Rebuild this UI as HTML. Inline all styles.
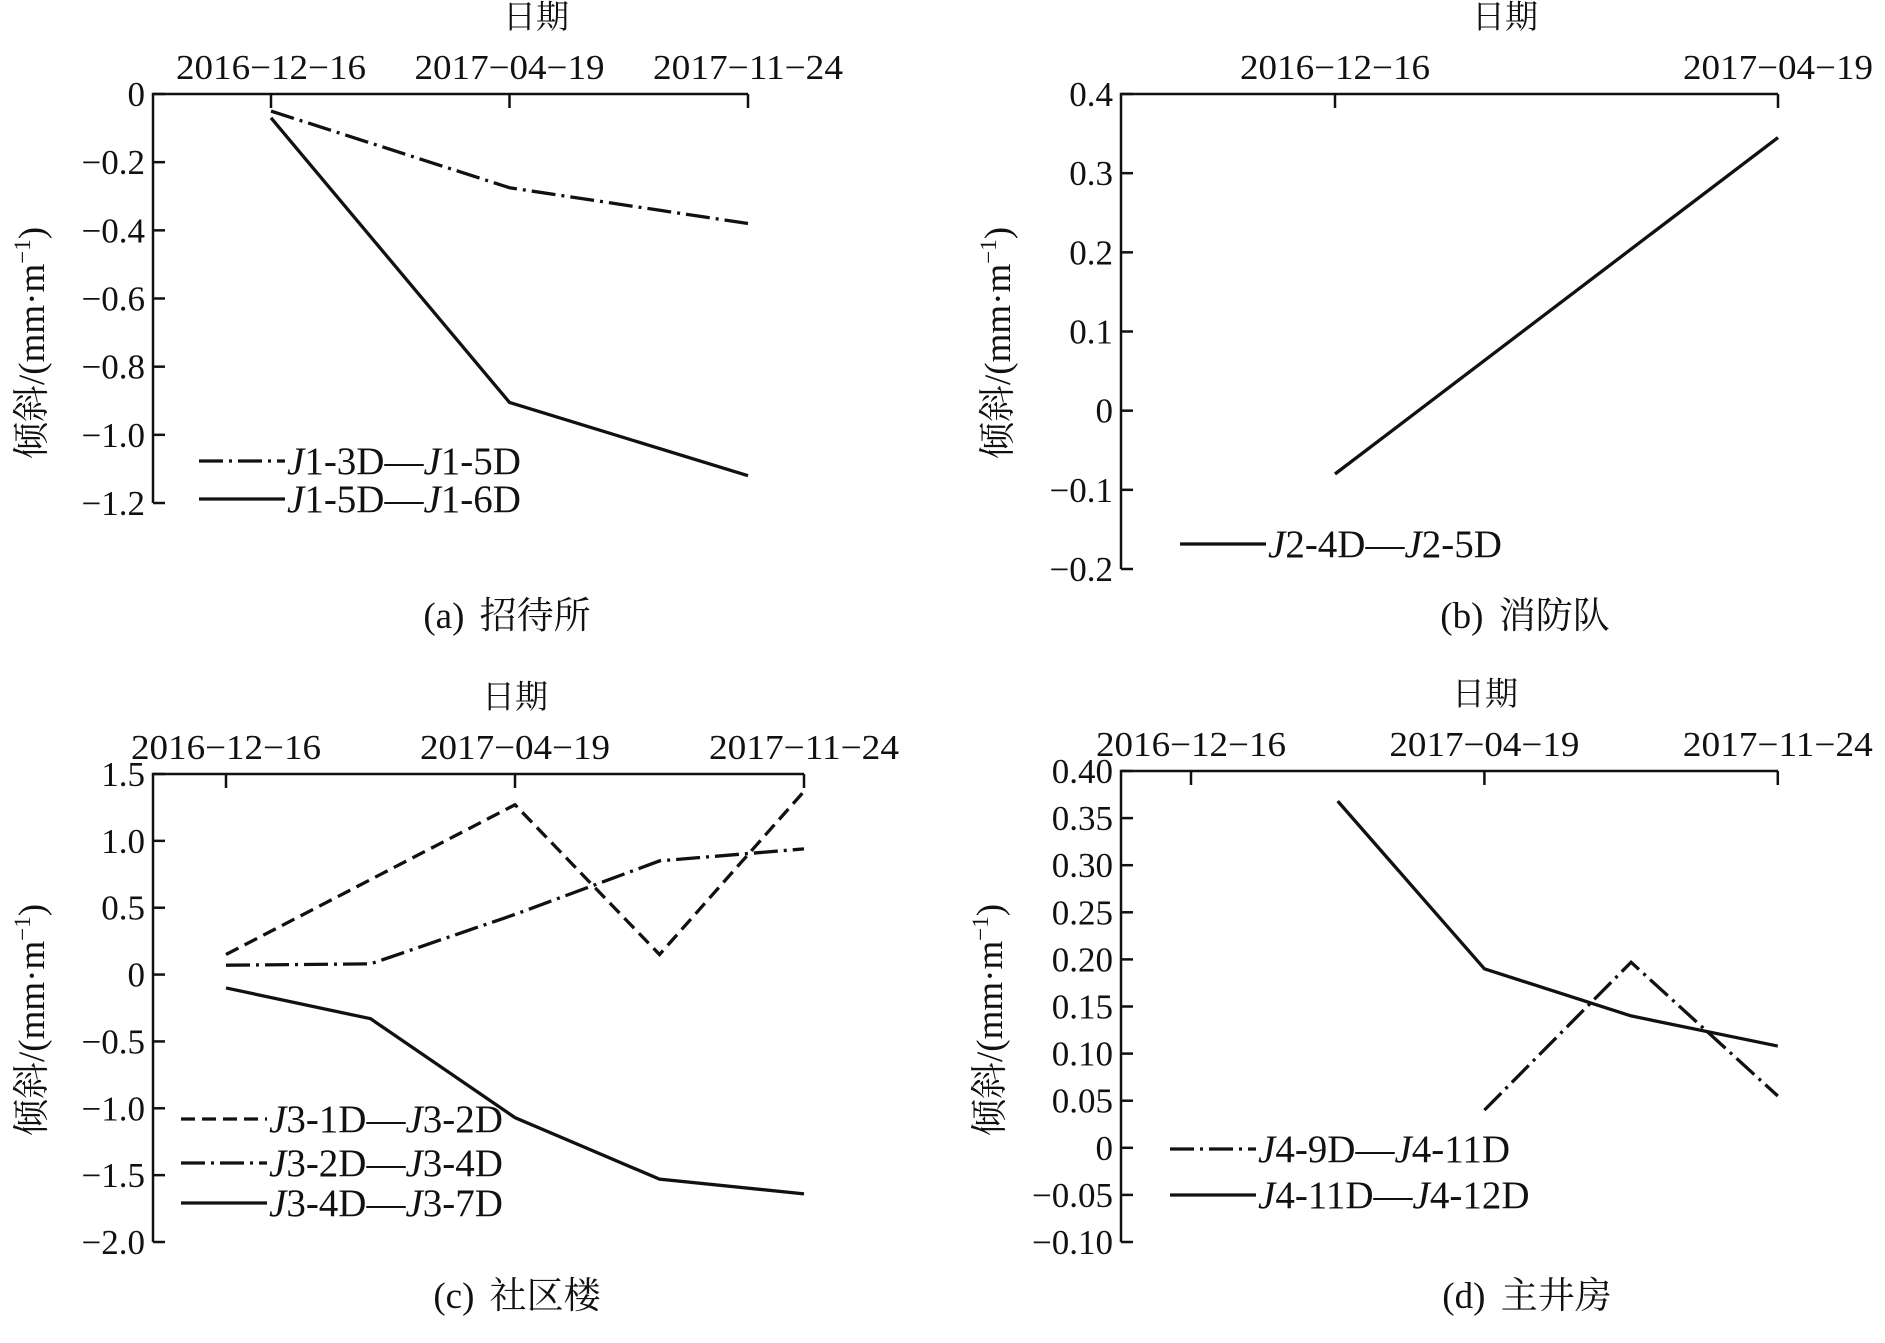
<!DOCTYPE html>
<html><head><meta charset="utf-8">
<style>
html,body{margin:0;padding:0;background:#fff;}
svg text{font-family:"Liberation Serif","Noto Serif CJK SC","Noto Sans CJK SC",serif;fill:#111;}
</style></head>
<body>
<svg id="fig" width="1885" height="1338" viewBox="0 0 1885 1338" xmlns="http://www.w3.org/2000/svg"></svg>
<script>
// ---- Panel (a) data ----
const aDateLabels = ["2016−12−16","2017−04−19","2017−11−24"];
const aYTicks = [0,-0.2,-0.4,-0.6,-0.8,-1.0,-1.2];
const aYTickLabels = ["0","−0.2","−0.4","−0.6","−0.8","−1.0","−1.2"];
const aSeries1 = [-0.05,-0.275,-0.38];
const aSeries2 = [-0.07,-0.905,-1.12];
const aNames = ["J1-3D—J1-5D","J1-5D—J1-6D"];
// ---- Panel (b) data ----
const bDateLabels = ["2016−12−16","2017−04−19"];
const bYTicks = [0.4,0.3,0.2,0.1,0,-0.1,-0.2];
const bYTickLabels = ["0.4","0.3","0.2","0.1","0","−0.1","−0.2"];
const bSeries1 = [-0.08,0.345];
const bNames = ["J2-4D—J2-5D"];
// ---- Panel (c) data ----
const cDateLabels = ["2016−12−16","2017−04−19","2017−11−24"];
const cYTicks = [1.5,1.0,0.5,0,-0.5,-1.0,-1.5,-2.0];
const cYTickLabels = ["1.5","1.0","0.5","0","−0.5","−1.0","−1.5","−2.0"];
const cSeries1 = [0.15,0.71,1.27,0.15,1.37];
const cSeries2 = [0.07,0.08,0.45,0.85,0.94];
const cSeries3 = [-0.1,-0.33,-1.07,-1.53,-1.64];
const cNames = ["J3-1D—J3-2D","J3-2D—J3-4D","J3-4D—J3-7D"];
// ---- Panel (d) data ----
const dDateLabels = ["2016−12−16","2017−04−19","2017−11−24"];
const dYTicks = [0.40,0.35,0.30,0.25,0.20,0.15,0.10,0.05,0,-0.05,-0.10];
const dYTickLabels = ["0.40","0.35","0.30","0.25","0.20","0.15","0.10","0.05","0","−0.05","−0.10"];
const dSeries1 = [null,0.04,0.197,0.055];
const dSeries2 = [0.368,0.19,0.14,0.108];
const dNames = ["J4-9D—J4-11D","J4-11D—J4-12D"];

const NS="http://www.w3.org/2000/svg";
const svg=document.getElementById('fig');
function el(tag,attrs,parent){const e=document.createElementNS(NS,tag);for(const k in attrs)e.setAttribute(k,attrs[k]);(parent||svg).appendChild(e);return e;}

const DASH={solid:"",dashed:"14 7",dashdot:"24 6 3 6"};

function panel(cfg){
  const g=el('g',{});
  
  
  const yScale=v=>cfg.yTop+(cfg.yMax-v)/(cfg.yMax-cfg.yMin)*(cfg.yBot-cfg.yTop);
  const xScale=i=>cfg.xs0+i*cfg.xStep;
  const ax=el('path',{d:`M${cfg.left},${cfg.yBot}V${cfg.yTop}H${cfg.axRight}`,stroke:'#111','stroke-width':2.5,fill:'none'},g);
  
  
  cfg.yTicks.forEach((v,i)=>{
    const y=yScale(v);
    el('line',{x1:cfg.left,x2:cfg.left+12,y1:y,y2:y,stroke:'#111','stroke-width':2.5},g);
    const t=el('text',{x:cfg.left-8,y:y+12,'text-anchor':'end','font-size':35},g);
    t.textContent=cfg.yLabels[i];
    
    
  });
  cfg.xTickIdx.forEach((idx,i)=>{
    const x=xScale(idx);
    el('line',{x1:x,x2:x,y1:cfg.yTop,y2:cfg.yTop+14,stroke:'#111','stroke-width':2.5},g);
    const t=el('text',{x:x,y:cfg.yTop-15,'text-anchor':'middle','font-size':35,textLength:190,lengthAdjust:'spacingAndGlyphs'},g);
    t.textContent=cfg.xLabels[i];
    
    
  });
  const xt=el('text',{x:cfg.xTitleX,y:cfg.yTop-66,'text-anchor':'middle','font-size':33},g);
  xt.textContent='日期';
  
  
  const yt=el('text',{x:0,y:0,'text-anchor':'middle','font-size':37,transform:`translate(${cfg.yTitleX},${cfg.yTitleY}) rotate(-90)`},g);
  yt.innerHTML='倾斜/(mm·m<tspan dy="-14" font-size="23">−1</tspan><tspan dy="14">)</tspan>';
  
  
  cfg.series.forEach((s,si)=>{
    let d='';let started=false;
    s.vals.forEach((v,i)=>{ if(v===null)return; d+=(started?'L':'M')+xScale(i+s.off)+','+yScale(v); started=true;});
    const p=el('path',{d:d,fill:'none',stroke:'#111','stroke-width':3.3,'stroke-dasharray':DASH[s.style]},g);
    
    
    const ly=cfg.legY[si];
    const ll=el('line',{x1:cfg.legX,x2:cfg.legX+86,y1:ly,y2:ly,stroke:'#111','stroke-width':3.3,'stroke-dasharray':DASH[s.style]},g);
    
    
    const parts=cfg.names[si].split('—');
    const a=parts[0].split('-'),b=parts[1].split('-');
    const t=el('text',{x:cfg.legX+88,y:ly+13,'font-size':39},g);
    t.innerHTML=`<tspan font-style="italic">${a[0][0]}</tspan>${a[0].slice(1)}-${a[1]}—<tspan font-style="italic">${b[0][0]}</tspan>${b[0].slice(1)}-${b[1]}`;
    
    
  });
  const cap=el('text',{x:cfg.capX,y:cfg.capY,'text-anchor':'middle','font-size':37,'word-spacing':6},g);
  cap.textContent=cfg.caption;
  
  
}

panel({name:'panel-a',left:153,axRight:748,yTop:94,yBot:503,yMax:0,yMin:-1.2,yTicks:aYTicks,yLabels:aYTickLabels,
  xs0:271,xStep:238.5,xTickIdx:[0,1,2],xLabels:aDateLabels,xTitleX:536,yTitleX:44,yTitleY:343,
  series:[{vals:aSeries1,off:0,style:'dashdot'},{vals:aSeries2,off:0,style:'solid'}],names:aNames,
  legX:199,legY:[461,499],caption:'(a)  招待所',capX:507,capY:628});
panel({name:'panel-b',left:1121,axRight:1778,yTop:94,yBot:569,yMax:0.4,yMin:-0.2,yTicks:bYTicks,yLabels:bYTickLabels,
  xs0:1335,xStep:443,xTickIdx:[0,1],xLabels:bDateLabels,xTitleX:1505,yTitleX:1010,yTitleY:343,
  series:[{vals:bSeries1,off:0,style:'solid'}],names:bNames,
  legX:1180,legY:[544],caption:'(b)  消防队',capX:1525,capY:628});
panel({name:'panel-c',left:153,axRight:804,yTop:774,yBot:1242,yMax:1.5,yMin:-2.0,yTicks:cYTicks,yLabels:cYTickLabels,
  xs0:226,xStep:144.5,xTickIdx:[0,2,4],xLabels:cDateLabels,xTitleX:515,yTitleX:44,yTitleY:1020,
  series:[{vals:cSeries1,off:0,style:'dashed'},{vals:cSeries2,off:0,style:'dashdot'},{vals:cSeries3,off:0,style:'solid'}],names:cNames,
  legX:181,legY:[1119,1163,1203],caption:'(c)  社区楼',capX:517,capY:1308});
panel({name:'panel-d',left:1121,axRight:1778,yTop:771,yBot:1242,yMax:0.40,yMin:-0.10,yTicks:dYTicks,yLabels:dYTickLabels,
  xs0:1191,xStep:146.7,xTickIdx:[0,2,4],xLabels:dDateLabels,xTitleX:1485,yTitleX:1002,yTitleY:1020,
  series:[{vals:dSeries1,off:1,style:'dashdot'},{vals:dSeries2,off:1,style:'solid'}],names:dNames,
  legX:1170,legY:[1149,1195],caption:'(d)  主井房',capX:1527,capY:1308});
</script>
</body></html>
